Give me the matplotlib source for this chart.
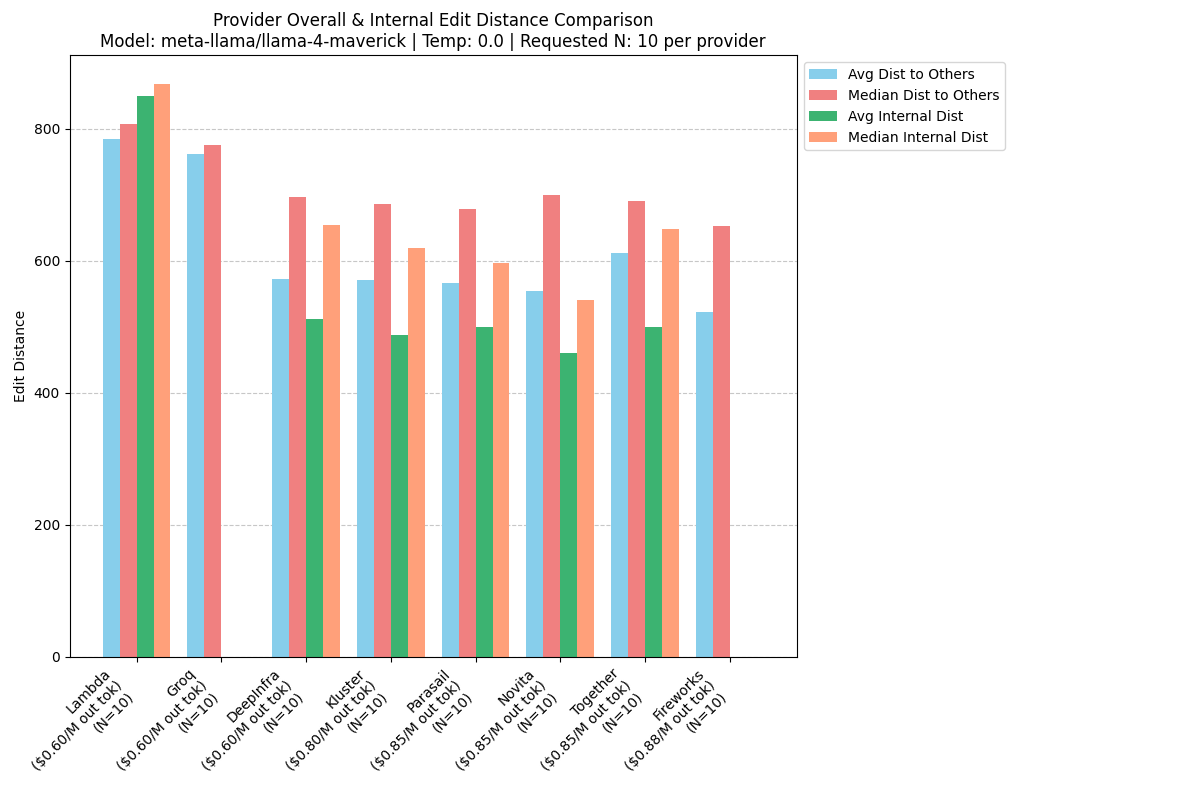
import matplotlib
matplotlib.use("Agg")
import matplotlib.pyplot as plt
import numpy as np

providers = ["Lambda", "Groq", "DeepInfra", "Kluster", "Parasail", "Novita", "Together", "Fireworks"]
prices = ["$0.60", "$0.60", "$0.60", "$0.80", "$0.85", "$0.85", "$0.85", "$0.88"]
counts = [10, 10, 10, 10, 10, 10, 10, 10]

avg_others = [785, 761, 573, 571, 566, 554, 611, 522]
median_others = [807, 776, 696, 686, 678, 699, 691, 653]
# providers with no internal data are drawn as zero-height bars
avg_internal = [849, 0, 512, 487, 500, 461, 500, 0]
median_internal = [868, 0, 654, 620, 597, 541, 648, 0]

labels = [f"{p}\n({pr}/M out tok)\n(N={n})" for p, pr, n in zip(providers, prices, counts)]

fig, ax = plt.subplots(figsize=(12, 8), dpi=100)
x = np.arange(len(providers))
w = 0.2
ax.bar(x - 1.5 * w, avg_others, w, label="Avg Dist to Others", color="skyblue")
ax.bar(x - 0.5 * w, median_others, w, label="Median Dist to Others", color="lightcoral")
ax.bar(x + 0.5 * w, avg_internal, w, label="Avg Internal Dist", color="mediumseagreen")
ax.bar(x + 1.5 * w, median_internal, w, label="Median Internal Dist", color="lightsalmon")

ax.set_xticks(x)
ax.set_xticklabels(labels, rotation=45, ha="right")
ax.set_ylabel("Edit Distance")
ax.set_title("Provider Overall & Internal Edit Distance Comparison\n"
             "Model: meta-llama/llama-4-maverick | Temp: 0.0 | Requested N: 10 per provider")
ax.grid(axis="y", linestyle="--", alpha=0.7)
ax.set_axisbelow(True)
ax.legend(loc="upper left", bbox_to_anchor=(1.0, 1))
fig.subplots_adjust(left=0.058, right=0.664, bottom=0.179, top=0.931)
fig.savefig("out.png")
